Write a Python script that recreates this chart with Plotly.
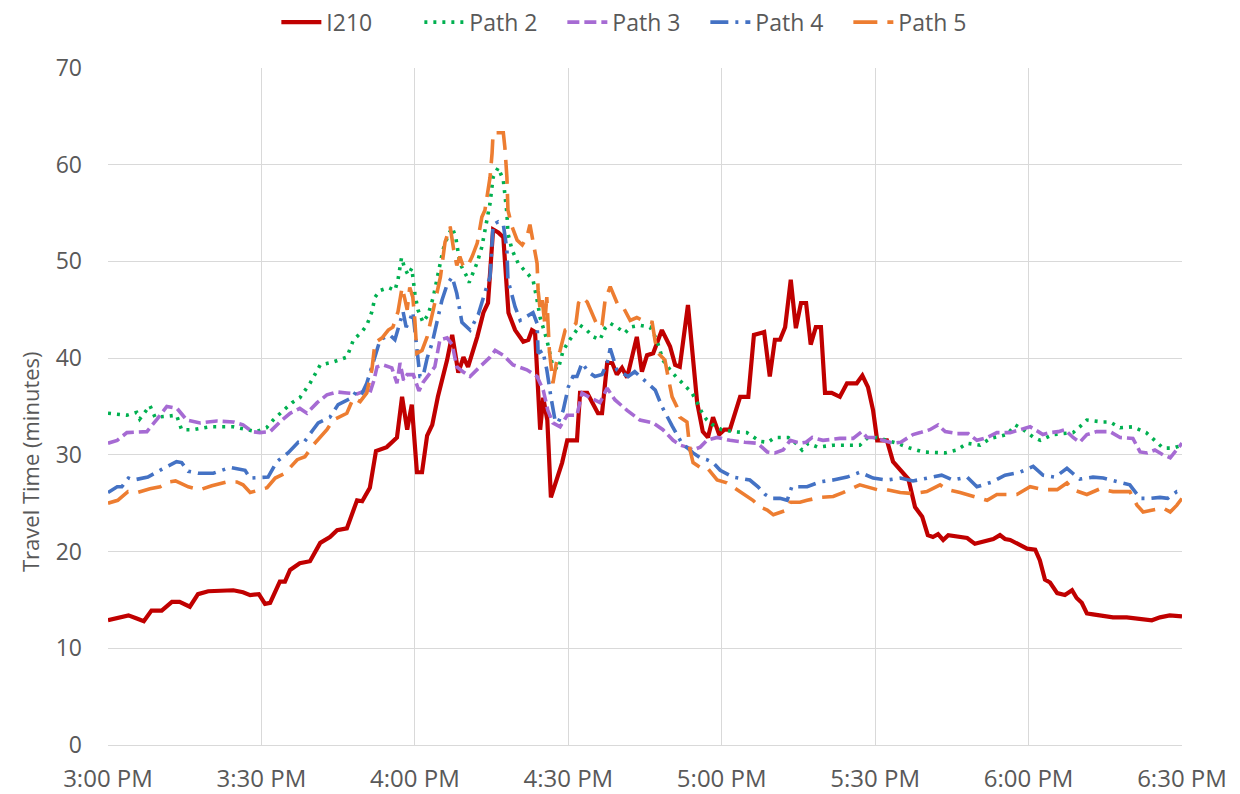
import plotly.graph_objects as go

# minutes after 3:00 PM
tick_vals = [0, 30, 60, 90, 120, 150, 180, 210]
tick_text = ['3:00 PM', '3:30 PM', '4:00 PM', '4:30 PM', '5:00 PM', '5:30 PM', '6:00 PM', '6:30 PM']

t_i210 = [0, 2.3, 4, 5.5, 7, 8.5, 10.5, 12.5, 14, 16,
          17.6, 19.6, 24.5, 26.4, 27.8, 29.5, 30.7, 31.7, 33.6, 34.6,
          35.6, 37.5, 39.5, 41.5, 43.4, 44.8, 46.7, 48.7, 49.7, 51.2,
          52.4, 54.5, 56.5, 57.5, 58.5, 59.4, 60.4, 61.4, 62.4, 63.4,
          64.5, 66.3, 67.3, 68.5, 69.5, 70.4, 72.2, 73.4, 74.3, 75.3,
          76.3, 77.3, 78.3, 79.6, 81.2, 82.2, 82.9, 83.5, 84.1, 84.5,
          85.1, 85.9, 86.6, 88.8, 89.8, 91.7, 92.3, 93.7, 95.8, 96.6,
          97.6, 98.6, 99.5, 100.5, 101.5, 103.4, 104.4, 105.4, 106.6, 108.3,
          109.9, 110.9, 111.8, 113.4, 115.2, 116.3, 117.3, 118.3, 119.5, 120.5,
          121.6, 123.6, 125.2, 126.3, 128.3, 129.4, 130.4, 131.4, 132.4, 133.5,
          134.5, 135.5, 136.5, 137.4, 138.4, 139.4, 140.2, 141.5, 143.1, 144.5,
          146.4, 147.5, 148.6, 149.6, 150.4, 152.3, 153.5, 154.9, 156.5, 157.8,
          159.2, 160.3, 161.3, 162.3, 163.3, 164.3, 166.2, 168, 169.5, 173.1,
          174.4, 175.4, 176.4, 179.7, 181.3, 182.2, 183.2, 184.2, 185.6, 187.1,
          188.5, 189.4, 190.4, 191.4, 192.6, 196.5, 199.2, 201.7, 204.1, 205.7,
          207.6, 210]
v_i210 = [12.9, 13.2, 13.4, 13.1, 12.8, 13.9, 13.9, 14.8, 14.8, 14.3,
          15.6, 15.9, 16.0, 15.8, 15.5, 15.6, 14.6, 14.7, 16.9, 16.9,
          18.1, 18.8, 19.0, 20.9, 21.5, 22.2, 22.4, 25.3, 25.2, 26.6,
          30.4, 30.8, 31.8, 36.0, 32.6, 35.2, 28.2, 28.2, 32.0, 33.1,
          36.0, 39.8, 42.4, 38.5, 40.1, 39.1, 42.2, 44.7, 45.7, 53.3,
          53.0, 52.5, 44.7, 42.9, 41.7, 41.9, 42.9, 42.7, 37.4, 32.6,
          35.9, 33.6, 25.6, 29.2, 31.5, 31.5, 36.4, 36.4, 34.3, 34.3,
          39.5, 39.5, 38.3, 39.0, 38.0, 42.2, 38.6, 40.3, 40.5, 42.9,
          41.2, 39.3, 39.1, 45.5, 35.4, 32.4, 31.8, 33.9, 32.1, 32.6,
          32.6, 36.0, 36.0, 42.4, 42.7, 38.1, 41.9, 41.9, 43.2, 48.1,
          43.1, 45.7, 45.7, 41.4, 43.2, 43.2, 36.4, 36.4, 36.0, 37.4,
          37.4, 38.2, 37.0, 34.6, 31.5, 31.5, 29.3, 28.4, 27.5, 24.6,
          23.6, 21.7, 21.5, 21.8, 21.2, 21.7, 21.6, 21.4, 20.8, 21.3,
          21.7, 21.3, 21.2, 20.3, 20.2, 19.1, 17.1, 16.8, 15.7, 15.5,
          16.0, 15.2, 14.7, 13.6, 13.5, 13.2, 13.2, 13.1, 12.9, 13.2,
          13.4, 13.3]

t_path2 = [0, 3.7, 5.6, 6.2, 8.2, 9.2, 11.8, 13.4, 14.4, 16.6,
           20, 24.5, 27.2, 29, 31, 32.3, 33.9, 36, 37.5, 39.5,
           41.5, 44, 46.7, 48, 49.6, 50.6, 51.6, 52.2, 53.2, 54.8,
           56.1, 56.7, 57.4, 58, 58.7, 59.4, 60, 60.6, 61.6, 62.6,
           63.6, 64.5, 65.5, 66.5, 67.3, 68, 68.8, 70.2, 70.6, 71.2,
           72.2, 73.1, 74.1, 74.7, 75.3, 76.3, 77.3, 78, 78.2, 79,
           80.2, 81.9, 83.1, 83.9, 84.5, 85.8, 87, 88, 89, 90.3,
           92.3, 93.6, 94.9, 96.2, 97.2, 98.2, 99.5, 101.1, 102.1, 104,
           106, 107.3, 108.5, 110.3, 112.4, 114.2, 115.2, 116.2, 117.1, 118.3,
           120, 122.2, 124.9, 127.5, 129, 130.4, 133, 134.5, 135.7, 136.9,
           138.8, 141.8, 144.5, 147, 148.4, 150.4, 152.3, 154.3, 156.8, 159.4,
           163.7, 166, 168, 170.5, 172.5, 175.8, 177.4, 179, 181, 182.3,
           184.8, 188.7, 190, 191.4, 194.4, 195.9, 197.9, 200.4, 203, 204.7,
           206.3, 208.3, 210]
v_path2 = [34.3, 34.1, 34.4, 33.7, 35.1, 33.9, 34.0, 34.1, 32.6, 32.6,
           32.9, 32.9, 32.6, 32.4, 32.8, 33.6, 34.4, 35.4, 35.9, 37.4,
           39.3, 39.6, 40.1, 41.9, 42.7, 43.4, 44.8, 46.3, 47.0, 47.3,
           47.0, 48.1, 50.4, 49.3, 48.6, 49.3, 46.7, 45.0, 43.7, 44.5,
           46.3, 48.6, 51.2, 52.7, 53.5, 52.5, 49.8, 48.4, 47.8, 48.6,
           49.9, 51.5, 54.3, 56.0, 58.7, 59.7, 58.4, 55.0, 52.9, 51.2,
           49.8, 48.8, 48.1, 46.0, 44.2, 41.9, 39.1, 38.8, 40.8, 41.9,
           43.4, 42.9, 42.2, 41.9, 43.1, 43.6, 43.2, 42.6, 43.2, 43.4,
           43.2, 41.9, 39.8, 38.5, 37.4, 36.4, 35.4, 34.3, 33.6, 33.1,
           32.6, 32.4, 32.3, 31.4, 31.3, 31.8, 31.8, 31.2, 30.5, 31.2,
           30.8, 31.0, 31.0, 31.0, 31.7, 31.8, 31.5, 31.2, 30.7, 30.3,
           30.2, 30.5, 31.2, 31.0, 31.7, 32.1, 33.1, 32.6, 31.8, 31.5,
           32.1, 32.3, 32.9, 33.6, 33.4, 33.4, 32.8, 32.9, 32.3, 31.5,
           30.7, 30.7, 31.0]

t_path3 = [0, 1.8, 3.7, 7.6, 9.6, 11.5, 13.5, 15.4, 18, 21.3,
           24.5, 26.4, 28.2, 29.7, 31.7, 33.6, 35.6, 37.5, 38.9, 40.9,
           42.8, 44.8, 46.7, 48.7, 50.6, 51.2, 52, 52.6, 53.8, 55.5,
           56.5, 57.1, 57.8, 58.5, 59.7, 60.8, 61.6, 63, 63.9, 64.9,
           66.3, 67.3, 68.2, 69.4, 70.8, 72.7, 74.7, 75.7, 77.3, 79.2,
           81.9, 83.9, 85.1, 86, 87, 88.4, 89.8, 91.7, 92.7, 94.3,
           96.2, 97.6, 99.1, 101.5, 104, 106.6, 108.5, 110.5, 111.9, 113.2,
           114.4, 115.8, 117.1, 119.1, 121.6, 124.5, 127, 128.9, 130.4, 132,
           133.4, 135.3, 136.5, 137.7, 139.8, 143.1, 145.7, 147.4, 148.4, 149.6,
           151.5, 153.5, 155, 157.4, 158.8, 160.7, 162.3, 163.7, 166, 168.2,
           169.9, 171.9, 173.8, 176.4, 178.3, 180.3, 181.9, 182.8, 184.2, 185.8,
           187.1, 188.7, 190, 191.4, 193.3, 195.9, 197.9, 200.4, 201.8, 203.2,
           204.7, 206.3, 207.7, 209, 210]
v_path3 = [31.2, 31.5, 32.3, 32.4, 33.7, 35.0, 34.8, 33.6, 33.3, 33.5,
           33.4, 33.1, 32.4, 32.3, 32.4, 33.4, 34.3, 34.8, 34.3, 35.4,
           36.2, 36.5, 36.4, 36.3, 36.7, 36.4, 37.7, 39.1, 39.3, 39.0,
           37.4, 39.5, 37.7, 38.3, 38.3, 36.6, 37.5, 38.5, 39.1, 41.9,
           42.1, 41.4, 39.1, 38.6, 38.1, 39.1, 40.1, 40.8, 40.3, 39.3,
           38.8, 38.1, 36.7, 34.6, 33.3, 32.9, 34.1, 34.1, 36.4, 35.9,
           35.4, 36.9, 35.7, 34.6, 33.6, 33.3, 32.6, 31.5, 31.0, 30.8,
           30.5, 30.8, 31.5, 31.8, 31.5, 31.3, 31.2, 30.3, 30.2, 30.5,
           31.5, 31.2, 31.3, 31.8, 31.5, 31.7, 31.7, 32.4, 31.8, 31.8,
           31.5, 31.2, 31.3, 32.1, 32.3, 32.6, 33.1, 32.4, 32.2, 32.2,
           31.5, 31.8, 32.3, 32.3, 32.6, 32.9, 32.4, 32.1, 32.3, 32.4,
           32.6, 31.8, 31.3, 32.1, 32.4, 32.4, 31.8, 31.7, 30.3, 30.2,
           30.5, 30.0, 29.7, 30.5, 31.2]

t_path4 = [0, 1.8, 2.7, 4, 5, 7.8, 10.5, 13.4, 14.4, 15.7,
           17.6, 20.6, 23.9, 26.8, 27.8, 29.7, 31.3, 33, 35.2, 37.2,
           38.2, 40.1, 41.1, 43.4, 45, 47.7, 48.7, 49.7, 50.6, 53.2,
           55.1, 56.1, 57.1, 57.7, 58.3, 59, 59.6, 60.4, 61, 61.6,
           62.4, 63.4, 64.3, 65.3, 66.3, 67.3, 68.2, 69.2, 70.8, 72.4,
           73.7, 74.7, 75.3, 76.3, 77.3, 78, 78.2, 79, 79.6, 80.6,
           82, 83.1, 83.9, 84.1, 85, 85.8, 86.6, 87.4, 88, 89,
           90, 90.9, 91.7, 92.7, 93.9, 95.2, 96.6, 97.6, 98.2, 99.5,
           100.5, 101.7, 103, 105.4, 107, 108.3, 109.3, 110.3, 112.2, 114.4,
           115.8, 117.1, 118.3, 119.7, 122.2, 125.5, 127.1, 128.5, 129.8, 131.4,
           132.8, 133.7, 136.7, 139.2, 141.8, 144.5, 147, 149.6, 152.3, 154.9,
           157.4, 160.3, 163, 165.2, 168, 169.9, 172.9, 175.4, 178.3, 180.9,
           182.8, 185.2, 187.5, 190, 192.6, 194.6, 197.3, 199.8, 201.8, 203.8,
           205.7, 207.2, 209, 210]
v_path4 = [26.1, 26.7, 26.7, 27.6, 27.4, 27.7, 28.5, 29.3, 29.2, 28.3,
           28.1, 28.1, 28.7, 28.4, 27.6, 27.7, 27.7, 29.3, 30.2, 31.3,
           31.2, 32.6, 33.3, 33.9, 35.2, 35.9, 36.7, 36.4, 37.4, 41.9,
           42.4, 41.9, 43.6, 44.8, 43.2, 43.9, 44.8, 40.5, 38.1, 38.1,
           40.0, 41.6, 43.6, 46.0, 47.6, 48.4, 46.7, 43.7, 42.9, 44.5,
           46.8, 48.4, 53.8, 54.1, 53.8, 51.2, 48.1, 46.3, 45.3, 43.9,
           44.3, 44.7, 43.6, 40.5, 40.8, 38.8, 36.0, 33.6, 33.3, 34.6,
           37.0, 38.1, 38.1, 39.5, 38.6, 38.1, 38.3, 39.5, 41.0, 38.8,
           38.5, 38.1, 38.6, 37.4, 36.7, 35.0, 33.9, 33.0, 31.2, 30.2,
           29.7, 29.5, 29.2, 28.4, 27.7, 27.4, 26.7, 25.9, 25.5, 25.5,
           25.3, 26.7, 26.7, 27.2, 27.4, 27.7, 28.2, 27.6, 27.4, 27.6,
           27.3, 27.6, 27.9, 27.4, 27.7, 26.7, 27.2, 27.9, 28.2, 28.8,
           27.9, 27.7, 28.6, 27.5, 27.7, 27.6, 27.2, 26.9, 25.5, 25.5,
           25.6, 25.5, 26.2, 26.2]

t_path5 = [0, 1.9, 3.9, 5.7, 8.2, 10.2, 11.8, 13.2, 15.7, 18,
           20.3, 23.3, 25.2, 26.4, 27.8, 31.1, 32.7, 34.6, 37, 38.5,
           40.1, 42.8, 44, 46, 46.7, 48, 49.3, 50.6, 51.6, 52.2,
           53.6, 54.8, 55.7, 56.7, 57.5, 58, 58.5, 59, 59.6, 60,
           60.4, 61.4, 62.4, 63.6, 65, 65.9, 66.9, 67.6, 68.2, 68.8,
           69.4, 70.2, 71.2, 72.2, 73.1, 73.7, 74.7, 75.1, 75.3, 77.3,
           77.6, 78, 78.2, 79, 80, 81, 81.9, 82.5, 83.1, 83.9,
           84.1, 84.5, 84.9, 85.4, 85.8, 86.3, 87, 87.7, 88.4, 89.4,
           90.7, 91.5, 92, 92.7, 93.7, 94.6, 95.8, 96.6, 97.2, 98.2,
           98.8, 99.7, 100.7, 102.1, 103.4, 104.6, 106.4, 107, 107.6, 108.9,
           109.5, 110.3, 111.2, 111.8, 113.2, 113.8, 114.4, 115.8, 117.1, 119.1,
           121, 123, 124, 126.1, 127.5, 128.9, 130.1, 132.8, 133.4, 135.3,
           136.7, 139.2, 141.8, 143.7, 147, 148.4, 150.4, 152.3, 154.9, 157.4,
           160.1, 162.7, 164.1, 166.6, 169.9, 171.9, 173.8, 177.7, 180.3, 182.8,
           185.6, 187.5, 188.7, 191.4, 194, 196.5, 199.8, 201.2, 202.4, 206.3,
           207.7, 209, 210]
v_path5 = [25.0, 25.3, 26.2, 26.1, 26.5, 26.7, 27.2, 27.3, 26.7, 26.4,
           26.8, 27.2, 27.2, 26.9, 26.1, 26.6, 27.6, 28.1, 29.5, 29.8,
           31.0, 32.6, 33.6, 34.1, 34.3, 35.9, 35.5, 36.4, 38.8, 41.6,
           42.1, 42.9, 43.2, 44.8, 47.3, 46.2, 45.0, 47.3, 46.3, 43.9,
           40.5, 40.8, 42.2, 45.0, 48.4, 52.0, 53.6, 51.2, 49.6, 50.5,
           49.6, 49.4, 50.5, 51.9, 54.6, 55.3, 58.7, 61.2, 63.3, 63.3,
           61.8, 58.7, 55.3, 53.6, 52.2, 51.7, 52.5, 53.8, 51.9, 49.8,
           47.0, 45.0, 46.0, 43.6, 46.3, 40.8, 37.4, 39.6, 40.8, 42.9,
           43.2, 43.6, 45.7, 46.3, 45.8, 44.7, 43.2, 43.4, 46.0, 47.4,
           46.7, 45.5, 45.3, 43.9, 44.2, 43.9, 43.7, 41.7, 40.5, 39.8,
           38.1, 36.0, 35.0, 33.9, 33.4, 30.5, 29.2, 28.7, 28.7, 27.4,
           27.1, 26.4, 26.1, 25.3, 24.6, 24.3, 23.8, 24.3, 25.1, 25.1,
           25.3, 25.6, 25.7, 26.1, 26.9, 26.7, 26.4, 26.4, 26.1, 26.0,
           26.2, 26.9, 26.4, 26.1, 25.6, 25.3, 25.9, 25.9, 26.7, 26.4,
           26.4, 27.1, 26.4, 25.9, 26.5, 26.2, 26.2, 24.8, 24.1, 24.5,
           24.1, 24.8, 25.5]

series = [
    ('I210', t_i210, v_i210, '#C00000', 'solid', 4.2),
    ('Path 2', t_path2, v_path2, '#00B050', '3px,6px', 3.6),
    ('Path 3', t_path3, v_path3, '#A66BD3', '12px,5px', 3.6),
    ('Path 4', t_path4, v_path4, '#4472C4', '18px,7px,3px,7px', 3.6),
    ('Path 5', t_path5, v_path5, '#ED7D31', '24px,10px', 3.6),
]

fig = go.Figure()
for name, tt, vv, color, dash, w in series:
    assert len(tt) == len(vv), (name, len(tt), len(vv))
    fig.add_trace(go.Scatter(x=tt, y=vv, name=name, mode='lines',
                             line=dict(color=color, width=w, dash=dash)))

grid = '#D9D9D9'
txt = '#595959'

# y title is drawn as an annotation: in the original it sits below the plot centre
fig.add_annotation(text='Travel Time (minutes)', textangle=-90,
                   xref='paper', yref='paper', x=-0.0726, y=0.418,
                   xanchor='center', yanchor='middle', showarrow=False,
                   font=dict(size=22, color=txt))

# the page body adds an 8px offset, so the figure is 8px smaller on each side
fig.update_layout(
    template='none',
    width=1232, height=786,
    paper_bgcolor='white', plot_bgcolor='white',
    font=dict(family='Open Sans, sans-serif', color=txt, size=22),
    margin=dict(l=100, r=58, t=60, b=49, autoexpand=False),
    showlegend=True,
    legend=dict(orientation='h', x=0.508, xanchor='center', xref='container',
                y=0.982, yanchor='middle', yref='container',
                entrywidth=88, entrywidthmode='pixels',
                font=dict(size=23, color=txt), itemwidth=40, bgcolor='rgba(0,0,0,0)'),
    xaxis=dict(range=[0, 210], tickvals=tick_vals, ticktext=tick_text,
               showgrid=True, gridcolor=grid, gridwidth=1.3, zeroline=False,
               showline=True, linecolor=grid, linewidth=1.3, automargin=False,
               ticks='', ticklabelstandoff=12, tickfont=dict(size=24, color=txt)),
    yaxis=dict(range=[0, 70], dtick=10, showgrid=True, gridcolor=grid, gridwidth=1.3,
               zeroline=False, showline=False, ticks='', automargin=False,
               ticklabelstandoff=25, tickfont=dict(size=23, color=txt)),
)

fig.write_html('out.html')
